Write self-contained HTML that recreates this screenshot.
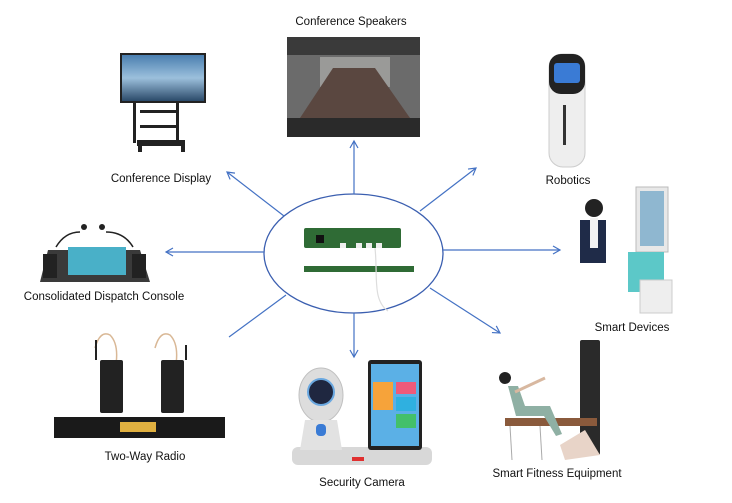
<!DOCTYPE html>
<html><head><meta charset="utf-8"><style>
html,body{margin:0;padding:0;background:#fff;}
svg{display:block;}
text{font-family:"Liberation Sans",sans-serif;font-size:11.5px;fill:#111;}
</style></head><body>
<svg width="732" height="503" viewBox="0 0 732 503" xmlns="http://www.w3.org/2000/svg">
<defs>
<marker id="a" markerWidth="10" markerHeight="10" refX="8" refY="5" orient="auto" markerUnits="userSpaceOnUse">
<path d="M1,1 L8,5 L1,9" fill="none" stroke="#4472c4" stroke-width="1.2"/></marker>
<linearGradient id="sky" x1="0" y1="0" x2="0" y2="1"><stop offset="0" stop-color="#4a7fb0"/><stop offset="0.5" stop-color="#9cc0dc"/><stop offset="1" stop-color="#2b4a6a"/></linearGradient>
</defs>

<!-- Ellipse -->
<ellipse cx="353.5" cy="253.5" rx="89.5" ry="59.5" fill="none" stroke="#3b5fb0" stroke-width="1.3"/>

<!-- Arrows -->
<g stroke="#4472c4" stroke-width="1.2" fill="none">
<line x1="354" y1="194" x2="354" y2="141" marker-end="url(#a)"/>
<line x1="284" y1="216" x2="227" y2="172" marker-end="url(#a)"/>
<line x1="420" y1="211" x2="476" y2="168" marker-end="url(#a)"/>
<line x1="264" y1="252" x2="166" y2="252" marker-end="url(#a)"/>
<line x1="443" y1="250" x2="560" y2="250" marker-end="url(#a)"/>
<line x1="286" y1="295" x2="229" y2="337"/>
<line x1="354" y1="313" x2="354" y2="357" marker-end="url(#a)"/>
<line x1="430" y1="288" x2="500" y2="333" marker-end="url(#a)"/>
</g>

<!-- Board -->
<rect x="304" y="228" width="97" height="20" rx="2" fill="#2f6b35"/>
<rect x="316" y="235" width="8" height="8" fill="#111"/>
<rect x="340" y="243" width="6" height="5" fill="#eee"/>
<rect x="356" y="243" width="6" height="5" fill="#eee"/>
<rect x="366" y="243" width="6" height="5" fill="#eee"/>
<rect x="376" y="243" width="6" height="5" fill="#eee"/>
<rect x="304" y="266" width="110" height="6" fill="#2f6b35"/>
<path d="M375,248 C378,275 372,300 388,311" stroke="#ddd" stroke-width="1.2" fill="none"/>

<!-- Conference Display -->
<rect x="120" y="53" width="86" height="50" fill="#222"/>
<rect x="122" y="55" width="82" height="46" fill="url(#sky)"/>
<rect x="133" y="103" width="3" height="40" fill="#222"/><rect x="176" y="103" width="3" height="40" fill="#222"/>
<rect x="140" y="110" width="36" height="3" fill="#222"/><rect x="140" y="125" width="36" height="3" fill="#222"/>
<rect x="137" y="140" width="48" height="6" fill="#222"/>
<rect x="138" y="146" width="4" height="6" fill="#222"/><rect x="181" y="146" width="4" height="6" fill="#222"/>
<text x="161" y="182" text-anchor="middle">Conference Display</text>

<!-- Conference Speakers -->
<rect x="287" y="37" width="133" height="100" fill="#6b6b6b"/>
<rect x="287" y="37" width="133" height="18" fill="#3a3a3a"/>
<rect x="320" y="57" width="70" height="30" fill="#9a9a98"/>
<polygon points="300,118 333,68 375,68 410,118" fill="#5a4740"/>
<rect x="287" y="118" width="133" height="19" fill="#2a2a2a"/>
<text x="351" y="25" text-anchor="middle">Conference Speakers</text>

<!-- Robotics -->
<rect x="549" y="54" width="36" height="113" rx="14" fill="#eeeeee" stroke="#ccc"/>
<rect x="549" y="54" width="36" height="40" rx="12" fill="#222"/>
<rect x="554" y="63" width="26" height="20" rx="3" fill="#3a7bd5"/>
<rect x="563" y="105" width="3" height="40" fill="#333"/>
<text x="568" y="184" text-anchor="middle">Robotics</text>

<!-- Smart Devices -->
<rect x="636" y="187" width="32" height="65" fill="#e8e8e8" stroke="#bbb"/>
<rect x="640" y="191" width="24" height="55" fill="#8fb7d0"/>
<rect x="628" y="252" width="36" height="40" fill="#5cc8c8"/>
<rect x="640" y="280" width="32" height="33" fill="#eee" stroke="#ccc"/>
<circle cx="594" cy="208" r="9" fill="#222"/>
<path d="M580,220 h26 v43 h-26 z" fill="#1f2b48"/>
<rect x="590" y="218" width="8" height="30" fill="#f2f2f2"/>
<text x="632" y="331" text-anchor="middle">Smart Devices</text>

<!-- Dispatch Console -->
<path d="M56,247 Q65,232 80,232 M133,247 Q124,232 106,232" stroke="#222" stroke-width="1.5" fill="none"/>
<circle cx="84" cy="227" r="3" fill="#222"/><circle cx="102" cy="227" r="3" fill="#222"/>
<polygon points="48,250 140,250 150,282 40,282" fill="#3a3a3a"/>
<rect x="68" y="247" width="58" height="28" fill="#49b0c8"/>
<rect x="43" y="254" width="14" height="24" fill="#222"/><rect x="132" y="254" width="14" height="24" fill="#222"/>
<text x="104" y="300" text-anchor="middle">Consolidated Dispatch Console</text>

<!-- Two-Way Radio -->
<path d="M95,348 Q100,330 110,335 Q120,345 115,370 M155,348 Q160,330 170,335 Q180,345 175,370" stroke="#d9b896" stroke-width="1.5" fill="none"/>
<line x1="96" y1="360" x2="96" y2="340" stroke="#222" stroke-width="2"/>
<line x1="186" y1="360" x2="186" y2="345" stroke="#222" stroke-width="2"/>
<rect x="100" y="360" width="23" height="53" rx="2" fill="#222"/>
<rect x="161" y="360" width="23" height="53" rx="2" fill="#222"/>
<rect x="54" y="417" width="171" height="21" fill="#1a1a1a"/>
<rect x="120" y="422" width="36" height="10" fill="#e0b040"/>
<text x="145" y="460" text-anchor="middle">Two-Way Radio</text>

<!-- Security Camera -->
<rect x="292" y="447" width="140" height="18" rx="6" fill="#d8d8d8"/>
<ellipse cx="321" cy="395" rx="22" ry="27" fill="#ddd" stroke="#c0c0c0"/>
<circle cx="321" cy="392" r="13" fill="#1f2740" stroke="#6aa8e0" stroke-width="2"/>
<path d="M305,420 h32 l5,30 h-42 z" fill="#e2e2e2"/>
<rect x="316" y="424" width="10" height="12" rx="4" fill="#3a7bd5"/>
<rect x="368" y="360" width="54" height="90" rx="3" fill="#222"/>
<rect x="371" y="364" width="48" height="82" fill="#5bb0e6"/>
<rect x="373" y="382" width="20" height="28" fill="#f6a33a"/>
<rect x="396" y="382" width="20" height="12" fill="#ef5a7a"/>
<rect x="396" y="397" width="20" height="14" fill="#2fb0e0"/>
<rect x="396" y="414" width="20" height="14" fill="#43c06a"/>
<rect x="352" y="457" width="12" height="4" fill="#e03030"/>
<text x="362" y="486" text-anchor="middle">Security Camera</text>

<!-- Smart Fitness -->
<rect x="580" y="340" width="20" height="115" rx="2" fill="#2a2a2a"/>
<polygon points="560,445 585,430 600,455 565,460" fill="#e8d4c8"/>
<rect x="505" y="418" width="92" height="8" fill="#8a5a3c"/>
<line x1="510" y1="426" x2="512" y2="460" stroke="#aaa"/>
<line x1="540" y1="426" x2="542" y2="460" stroke="#aaa"/>
<circle cx="505" cy="378" r="6" fill="#222"/>
<path d="M508,386 l8,30 h28 l12,20 l6,-2 l-12,-28 h-25 l-7,-20 z" fill="#8fb0a4"/>
<path d="M515,392 l30,-14" stroke="#d8b8a0" stroke-width="3"/>
<text x="557" y="477" text-anchor="middle">Smart Fitness Equipment</text>
</svg>
</body></html>
